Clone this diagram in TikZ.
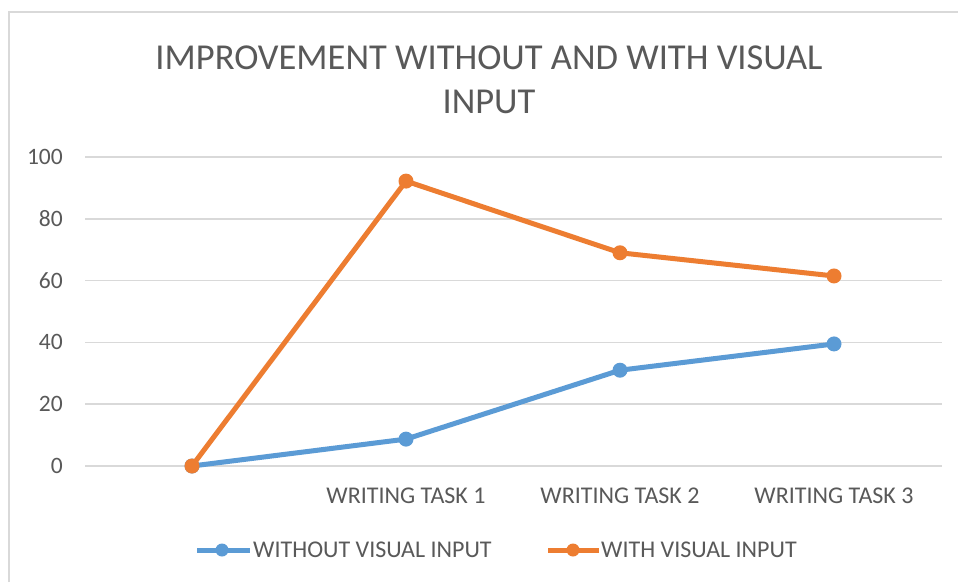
\documentclass[tikz,border=0pt]{standalone}
\usepackage{fontspec}
\setmainfont{Carlito}
\usepackage{tikz}
\usetikzlibrary{positioning}
\usepackage{xcolor}
\definecolor{chartgrey}{RGB}{89,89,89}
\definecolor{gridgrey}{RGB}{217,217,217}
\definecolor{seriesblue}{RGB}{91,155,213}
\definecolor{seriesorange}{RGB}{237,125,49}
\tikzstyle{gridline} = [draw=gridgrey, line width=1.5pt]
\tikzstyle{axislabel} = [text=chartgrey, font=\fontsize{23.5}{27}\selectfont, anchor=east, inner sep=0pt]
\tikzstyle{catlabel} = [text=chartgrey, font=\fontsize{24}{28}\selectfont, inner sep=0pt]
\tikzstyle{dot} = [circle, minimum size=15pt, inner sep=0pt]
\tikzstyle{series} = [line width=5pt, line join=round]

\begin{document}
\begin{tikzpicture}[x=1pt, y=1pt]
\useasboundingbox (0,0) rectangle (958,582);
\fill[white] (0,0) rectangle (958,582);

% chart area frame
\draw[gridgrey, line width=2pt] (9,0) -- (9,570) -- (958,570);

% title
\node (title) [text=chartgrey, font=\fontsize{36.5}{44}\selectfont, align=center] at (489,502) {IMPROVEMENT WITHOUT AND WITH VISUAL\\INPUT};

% value axis and gridlines
\foreach \v in {0,20,...,100} {
  \draw[gridline] (85,{116+3.09*\v}) -- (942,{116+3.09*\v});
  \node[axislabel] at (63,{116+3.09*\v}) {\v};
}

% category labels
\node (task1) [catlabel] at (406,86) {WRITING TASK 1};
\node (task2) [catlabel] at (620,86) {WRITING TASK 2};
\node (task3) [catlabel] at (834,86) {WRITING TASK 3};

% series: without visual input
\node (b0) [dot, fill=seriesblue] at (192,{116+3.09*0}) {};
\node (b1) [dot, fill=seriesblue] at (406,{116+3.09*8.7}) {};
\node (b2) [dot, fill=seriesblue] at (620,{116+3.09*31}) {};
\node (b3) [dot, fill=seriesblue] at (834,{116+3.09*39.5}) {};
\draw[series, seriesblue] (b0.center) -- (b1.center) -- (b2.center) -- (b3.center);

% series: with visual input
\node (o1) [dot, fill=seriesorange] at (406,{116+3.09*92.2}) {};
\node (o2) [dot, fill=seriesorange] at (620,{116+3.09*69}) {};
\node (o3) [dot, fill=seriesorange] at (834,{116+3.09*61.5}) {};
\draw[series, seriesorange] (b0.center) -- (o1.center) -- (o2.center) -- (o3.center);
\node (o0) [dot, fill=seriesorange] at (b0) {};

% legend
\coordinate (lb1) at (197,32);
\coordinate (lb2) at (250,32);
\draw[series, seriesblue] (lb1) -- (lb2);
\node (lbdot) [dot, fill=seriesblue, minimum size=13pt] at (222,32) {};
\node (lbtext) [catlabel, anchor=west] at (253,32) {WITHOUT VISUAL INPUT};

\coordinate (lo1) at (548,32);
\coordinate (lo2) at (599,32);
\draw[series, seriesorange] (lo1) -- (lo2);
\node (lodot) [dot, fill=seriesorange, minimum size=13pt] at (573,32) {};
\node (lotext) [catlabel, anchor=west] at (601,32) {WITH VISUAL INPUT};
\end{tikzpicture}
\end{document}
